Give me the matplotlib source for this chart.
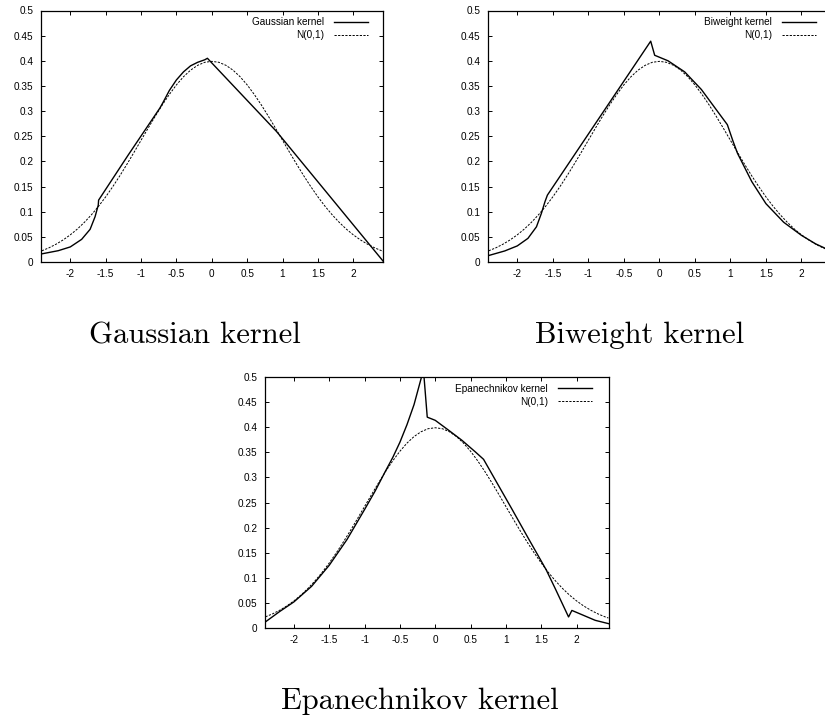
import matplotlib
matplotlib.use("Agg")
import matplotlib.pyplot as plt

# ---------------- data ----------------
norm_x = [-2.45, -2.4, -2.3, -2.2, -2.1, -2.0, -1.9, -1.8, -1.7, -1.6, -1.5, -1.4, -1.3,
          -1.2, -1.1, -1.0, -0.9, -0.8, -0.7, -0.6, -0.5, -0.4, -0.3, -0.2, -0.1, 0.0,
          0.1, 0.2, 0.3, 0.4, 0.5, 0.6, 0.7, 0.8, 0.9, 1.0, 1.1, 1.2, 1.3, 1.4, 1.5,
          1.6, 1.7, 1.8, 1.9, 2.0, 2.1, 2.2, 2.3, 2.4, 2.45]
norm_y = [0.0199, 0.0224, 0.0283, 0.0355, 0.0440, 0.0540, 0.0656, 0.0790, 0.0941, 0.1109,
          0.1295, 0.1497, 0.1714, 0.1942, 0.2179, 0.2420, 0.2661, 0.2897, 0.3123, 0.3332,
          0.3521, 0.3683, 0.3814, 0.3910, 0.3970, 0.3989, 0.3970, 0.3910, 0.3814, 0.3683,
          0.3521, 0.3332, 0.3123, 0.2897, 0.2661, 0.2420, 0.2179, 0.1942, 0.1714, 0.1497,
          0.1295, 0.1109, 0.0941, 0.0790, 0.0656, 0.0540, 0.0440, 0.0355, 0.0283, 0.0224,
          0.0199]

gauss_x = [-2.41, -2.17, -2.0, -1.84, -1.72, -1.65, -1.605, -1.60, -1.18, -0.734, -0.69,
           -0.6, -0.5, -0.4, -0.3, -0.2, -0.1, -0.062, 0.918, 2.42]
gauss_y = [0.016, 0.0225, 0.030, 0.045, 0.065, 0.090, 0.113, 0.123, 0.213, 0.306, 0.317,
           0.341, 0.362, 0.378, 0.390, 0.397, 0.402, 0.405, 0.259, 0.002]

biw_x = [-2.41, -2.176, -2.0, -1.85, -1.73, -1.66, -1.61, -1.576, -0.122, -0.066, 0.122,
         0.356, 0.591, 0.826, 0.957, 1.037, 1.1, 1.3, 1.5, 1.75, 2.0, 2.2, 2.43]
biw_y = [0.0126, 0.022, 0.032, 0.047, 0.070, 0.097, 0.120, 0.133, 0.439, 0.411, 0.400,
         0.378, 0.343, 0.298, 0.273, 0.240, 0.216, 0.160, 0.116, 0.079, 0.053, 0.036, 0.021]

epa_x = [-2.405, -2.2, -2.0, -1.75, -1.5, -1.25, -1.0, -0.85, -0.71, -0.6, -0.5, -0.4,
         -0.3, -0.2, -0.17, -0.113, 0.0, 0.189, 0.377, 0.566, 0.684, 1.085, 1.32, 1.57,
         1.70, 1.887, 1.934, 2.075, 2.264, 2.455]
epa_y = [0.012, 0.033, 0.052, 0.083, 0.125, 0.176, 0.236, 0.273, 0.311, 0.340, 0.370,
         0.405, 0.445, 0.497, 0.520, 0.420, 0.4137, 0.394, 0.374, 0.351, 0.336, 0.237,
         0.178, 0.116, 0.078, 0.022, 0.035, 0.0266, 0.0153, 0.0086]

xtick_vals = [-2, -1.5, -1, -0.5, 0, 0.5, 1, 1.5, 2]
xtick_labels = ["-2", "-1.5", "-1", "-0.5", "0", "0.5", "1", "1.5", "2"]
ytick_vals = [0, 0.05, 0.1, 0.15, 0.2, 0.25, 0.3, 0.35, 0.4, 0.45, 0.5]
ytick_labels = ["0", "0.05", "0.1", "0.15", "0.2", "0.25", "0.3", "0.35", "0.4", "0.45", "0.5"]

kernel_labels = ["Gaussian kernel", "Biweight kernel", "Epanechnikov kernel"]
normal_label = "N(0,1)"

# ---------------- figure ----------------
plt.rcParams["font.family"] = ["Liberation Sans", "DejaVu Sans"]
plt.rcParams["lines.scale_dashes"] = False

fig = plt.figure(figsize=(8.25, 7.19), dpi=100)
W, H = 825.0, 719.0


def make_ax(left, right, top, bottom):
    return fig.add_axes([left / W, 1 - bottom / H, (right - left) / W, (bottom - top) / H])


panels = [
    dict(box=(41.3, 383.0, 10.5, 262.0), xlim=(-2.41, 2.42), kx=gauss_x, ky=gauss_y,
         label=kernel_labels[0], legx=0.956, cap=(195, 343)),
    dict(box=(488.3, 832.0, 10.5, 262.0), xlim=(-2.408, 2.43), kx=biw_x, ky=biw_y,
         label=kernel_labels[1], legx=0.9535, cap=(640, 343)),
    dict(box=(265.3, 608.7, 377.0, 628.0), xlim=(-2.405, 2.455), kx=epa_x, ky=epa_y,
         label=kernel_labels[2], legx=0.9505, cap=(420, 709)),
]

for p in panels:
    ax = make_ax(*p["box"])
    ax.plot(p["kx"], p["ky"], color="black", lw=1.0, label=p["label"])
    ax.plot(norm_x, norm_y, color="black", lw=0.7, dashes=(1.6, 1.0), label=normal_label)
    ax.set_xlim(*p["xlim"])
    ax.set_ylim(0, 0.5)
    ax.set_xticks(xtick_vals)
    ax.set_xticklabels(xtick_labels)
    ax.set_yticks(ytick_vals)
    ax.set_yticklabels(ytick_labels)
    ax.tick_params(direction="in", top=True, right=True, length=3, width=0.7,
                   labelsize=7.2, colors="black")
    ax.tick_params(axis="x", pad=4.8)
    ax.tick_params(axis="y", pad=5.6)
    for s in ax.spines.values():
        s.set_linewidth(0.9)
    ax.legend(loc="upper right", bbox_to_anchor=(p["legx"], 0.973), frameon=False,
              markerfirst=False, fontsize=7.2, handlelength=3.4, handletextpad=1.0,
              labelspacing=0.28, borderpad=0, borderaxespad=0)
    fig.text(p["cap"][0] / W, 1 - p["cap"][1] / H, p["label"], family="cmr10",
             fontsize=22, ha="center", va="baseline")

fig.savefig("out.png", dpi=100)
